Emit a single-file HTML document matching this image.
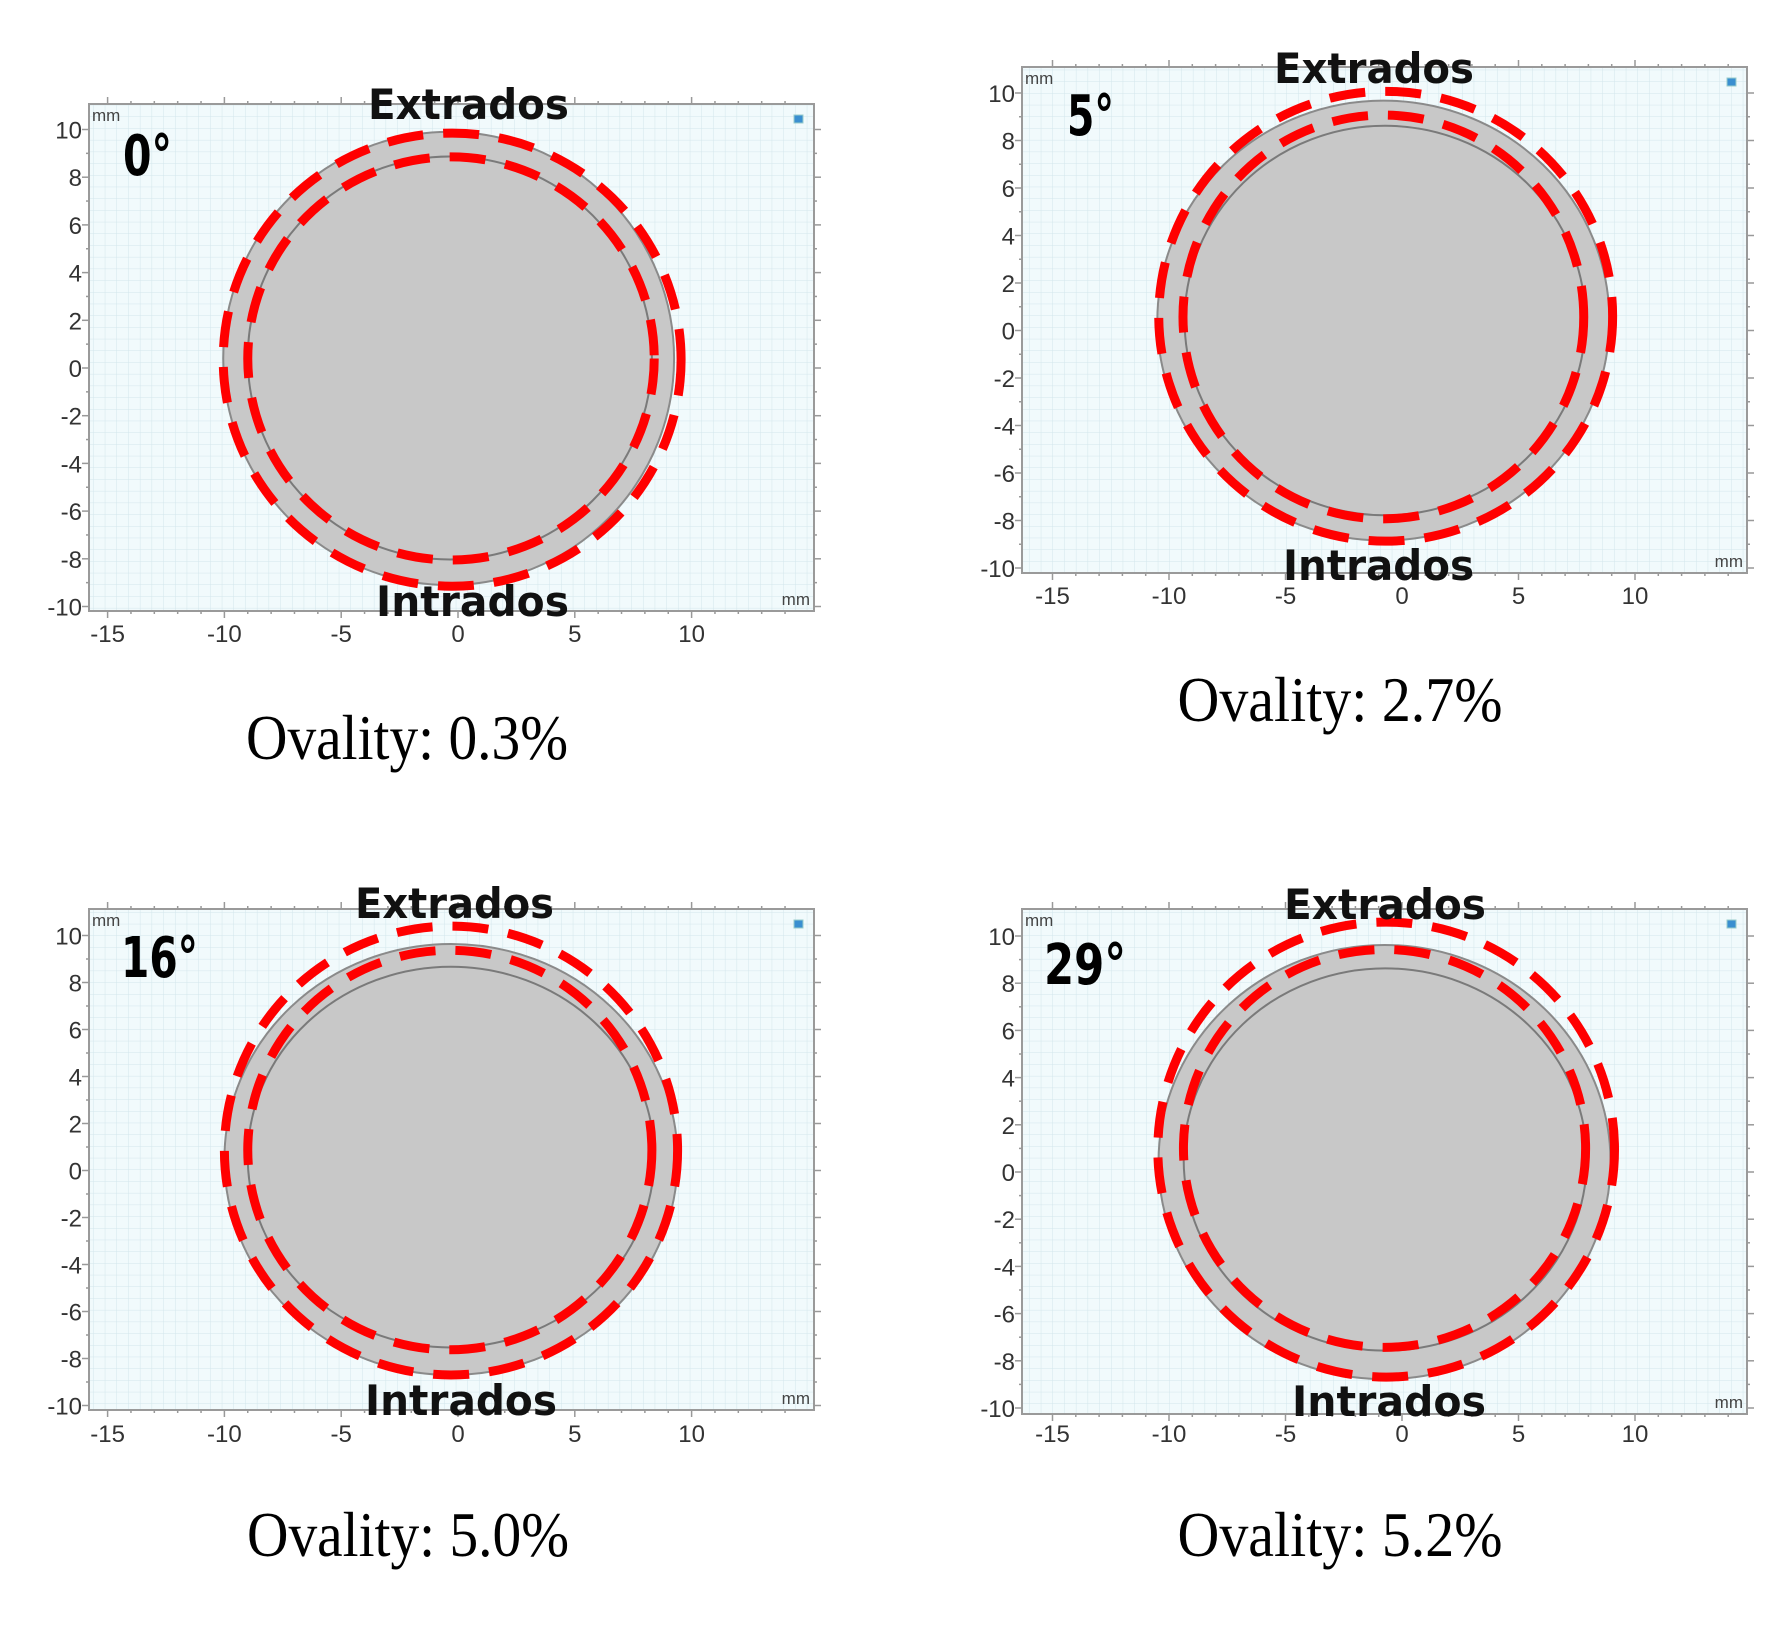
<!DOCTYPE html>
<html><head><meta charset="utf-8"><style>
html,body{margin:0;padding:0;background:#fff;}
svg{display:block;}
</style></head><body>
<svg id="fig" width="1792" height="1651" viewBox="0 0 1792 1651" xmlns="http://www.w3.org/2000/svg">
<defs>
<pattern id="grid" width="11.7" height="11.7" patternUnits="userSpaceOnUse">
<rect width="11.7" height="11.7" fill="#f1fafc"/>
<path d="M11.7 0V11.7M0 11.7H11.7" stroke="#d3e6ec" stroke-width="1"/>
</pattern>
</defs>
</svg>
<script>
// data
const angleLabels = ["0°", "5°", "16°", "29°"];
const ovalityValues = [0.3, 2.7, 5.0, 5.2];
const xTicks = [-15, -10, -5, 0, 5, 10];
const yTicks = [10, 8, 6, 4, 2, 0, -2, -4, -6, -8, -10];
// ellipses [cx, cy, rx, ry] in mm
const grayOuter = [[-0.4,0.4,9.65,9.5],[-0.8,0.42,9.7,9.26],[-0.3,0.47,9.7,9.17],[-0.75,0.42,9.7,9.2]];
const grayInner = [[-0.35,0.42,8.65,8.45],[-0.73,0.42,8.6,8.2],[-0.3,0.57,8.7,8.1],[-0.72,0.53,8.65,8.1]];
const redOuter = [[-0.25,0.35,9.8,9.5],[-0.7,0.6,9.74,9.47],[-0.3,0.85,9.7,9.55],[-0.68,0.95,9.8,9.64]];
const redInner = [[-0.3,0.4,8.7,8.45],[-0.8,0.57,8.6,8.5],[-0.35,0.87,8.65,8.5],[-0.75,1.0,8.63,8.43]];

// layout
const layout = [
 {bx:89,by:104,bw:725,bh:507,x0:458,sx:23.36,y0:368,sy:23.85,ext:[368,569,119],int:[376,569,616],ang:[123,175,172],xlab:642,ov:[407,759]},
 {bx:1022,by:67,bw:725,bh:506,x0:1402,sx:23.3,y0:330.5,sy:23.75,ext:[1274,1474,83],int:[1283,1474,580],ang:[1067,135,1114],xlab:604,ov:[1340,721]},
 {bx:89,by:909,bw:725,bh:501,x0:458,sx:23.36,y0:1170.5,sy:23.5,ext:[355,554,918],int:[365,557,1415],ang:[121,977,198],xlab:1442,ov:[408,1556]},
 {bx:1022,by:909,bw:725,bh:505,x0:1402,sx:23.3,y0:1172,sy:23.6,ext:[1284,1486,919],int:[1292,1486,1416],ang:[1044,984,1126],xlab:1442,ov:[1340,1556]}
];
const NS="http://www.w3.org/2000/svg";
const svg=document.getElementById('fig');
function mk(tag,attrs,parent,txt){const e=document.createElementNS(NS,tag);for(const k in attrs)e.setAttribute(k,attrs[k]);if(txt!==undefined)e.textContent=txt;(parent||svg).appendChild(e);return e;}

layout.forEach((L,i)=>{
  const g=mk('g',{});
  
  
  const X=v=>L.x0+v*L.sx, Y=v=>L.y0-v*L.sy;
  const bg=mk('rect',{x:L.bx,y:L.by,width:L.bw,height:L.bh,fill:'url(#grid)',stroke:'#9a9a9a','stroke-width':2},g);
  
  
  for(let v=-15;v<=14;v++){const x=X(v);const len=(v%5===0)?7:3;
    mk('line',{x1:x,y1:L.by+L.bh,x2:x,y2:L.by+L.bh+len,stroke:'#999','stroke-width':1.5},g);
    mk('line',{x1:x,y1:L.by,x2:x,y2:L.by-len,stroke:'#999','stroke-width':1.5},g);}
  for(let v=-10;v<=10;v++){const y=Y(v);const len=(v%2===0)?7:3;
    mk('line',{x1:L.bx,y1:y,x2:L.bx-len,y2:y,stroke:'#999','stroke-width':1.5},g);
    mk('line',{x1:L.bx+L.bw,y1:y,x2:L.bx+L.bw+len,y2:y,stroke:'#999','stroke-width':1.5},g);}
  xTicks.forEach(v=>{const t=mk('text',{x:X(v),y:L.xlab,'text-anchor':'middle','font-family':'Liberation Sans, sans-serif','font-size':24,fill:'#333'},g,String(v));
    
    });
  yTicks.forEach(v=>{const t=mk('text',{x:L.bx-7,y:Y(v)+9,'text-anchor':'end','font-family':'Liberation Sans, sans-serif','font-size':24,fill:'#333'},g,String(v));
    
    });
  const u1=mk('text',{x:L.bx+3,y:L.by+17,'font-family':'Liberation Sans, sans-serif','font-size':17,fill:'#444'},g,'mm');
  
  
  const u2=mk('text',{x:L.bx+L.bw-4,y:L.by+L.bh-6,'text-anchor':'end','font-family':'Liberation Sans, sans-serif','font-size':17,fill:'#444'},g,'mm');
  
  
  const ic=mk('rect',{x:L.bx+L.bw-20,y:L.by+11,width:9,height:8,fill:'#3a8fd0',stroke:'#9cc','stroke-width':1},g);
  
  
  const ell=(d,attrs,name)=>{const e=mk('ellipse',Object.assign({cx:X(d[0]),cy:Y(d[1]),rx:d[2]*L.sx,ry:d[3]*L.sy},attrs),g);
    
    return e;};
  ell(grayOuter[i],{fill:'#c8c8c8',stroke:'#8a8a8a','stroke-width':2},'outer-wall');
  ell(grayInner[i],{fill:'#c8c8c8',stroke:'#7a7a7a','stroke-width':2},'inner-wall');
  ell(redOuter[i],{fill:'none',stroke:'#ff0000','stroke-width':9,'stroke-dasharray':'36 20'},'deformed-outer-wall');
  ell(redInner[i],{fill:'none',stroke:'#ff0000','stroke-width':9,'stroke-dasharray':'36 20'},'deformed-inner-wall');
  const ex=mk('text',{x:L.ext[0],y:L.ext[2],textLength:L.ext[1]-L.ext[0],lengthAdjust:'spacingAndGlyphs','font-family':'DejaVu Sans, sans-serif','font-weight':'bold','font-size':42,fill:'#111'},g,'Extrados');
  
  
  const inn=mk('text',{x:L.int[0],y:L.int[2],textLength:L.int[1]-L.int[0],lengthAdjust:'spacingAndGlyphs','font-family':'DejaVu Sans, sans-serif','font-weight':'bold','font-size':42,fill:'#111'},g,'Intrados');
  
  
  const an=mk('text',{x:L.ang[0],y:L.ang[1],textLength:L.ang[2]-L.ang[0],lengthAdjust:'spacingAndGlyphs','font-family':'DejaVu Sans, sans-serif','font-weight':'bold','font-size':56,fill:'#000'},g,angleLabels[i]);
  
  
  const ov=mk('text',{x:L.ov[0],y:L.ov[1],'text-anchor':'middle',textLength:(i%2===0?322:325),lengthAdjust:'spacingAndGlyphs','font-family':'Liberation Serif, serif','font-size':64,fill:'#000'},g,'Ovality: '+ovalityValues[i].toFixed(1)+'%');
  
  
});
</script>
</body></html>
